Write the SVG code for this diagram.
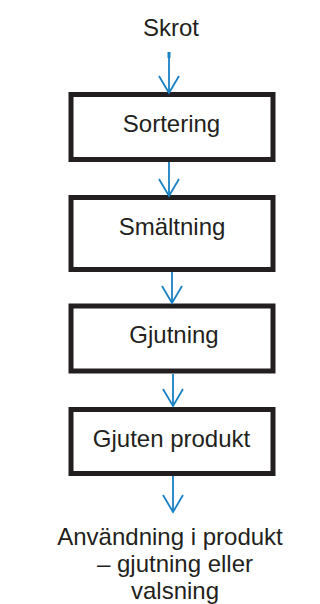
<svg xmlns="http://www.w3.org/2000/svg" width="320" height="604" viewBox="0 0 320 604">
  <defs>
    <style>
      .box { fill: #ffffff; stroke: #231f20; stroke-width: 5; }
      .lbl { font-family: "Liberation Sans", Arial, sans-serif; font-size: 24px; fill: #231f20; text-anchor: middle; }
      .flow { stroke: #1a80c4; stroke-width: 1.8; fill: none; }
    </style>
    <!-- open V arrowhead; x-axis of the marker runs along the line -->
    <marker id="vhead" viewBox="0 0 20 22" refX="18" refY="11" markerWidth="20" markerHeight="22" markerUnits="userSpaceOnUse" orient="auto">
      <path d="M1,1 L18,11 L1,21" fill="none" stroke="#1a80c4" stroke-width="1.8"/>
    </marker>
  </defs>

  <g id="start">
    <text class="lbl" x="171" y="36">Skrot</text>
  </g>

  <g id="sortering">
    <rect class="box" x="71" y="94.5" width="202" height="65"/>
    <text class="lbl" x="171.5" y="132">Sortering</text>
  </g>

  <g id="smaltning">
    <rect class="box" x="71" y="197.5" width="202" height="72"/>
    <text class="lbl" x="172" y="235">Smältning</text>
  </g>

  <g id="gjutning">
    <rect class="box" x="71" y="306" width="202" height="65"/>
    <text class="lbl" x="174" y="343">Gjutning</text>
  </g>

  <g id="gjuten-produkt">
    <rect class="box" x="71" y="409.5" width="202" height="64"/>
    <text class="lbl" x="171.5" y="447">Gjuten produkt</text>
  </g>

  <g id="anvandning">
    <text class="lbl" x="170" y="545">Användning i produkt</text>
    <text class="lbl" x="175" y="572">– gjutning eller</text>
    <text class="lbl" x="175" y="599">valsning</text>
  </g>

  <g id="connectors">
    <line x1="169" y1="52" x2="169" y2="58" stroke="#1a80c4" stroke-width="3"/>
    <line class="flow" x1="169" y1="52" x2="169" y2="93" marker-end="url(#vhead)"/>
    <line class="flow" x1="169" y1="162" x2="169" y2="196" marker-end="url(#vhead)"/>
    <line class="flow" x1="172" y1="272" x2="172" y2="303" marker-end="url(#vhead)"/>
    <line class="flow" x1="173" y1="374" x2="173" y2="406" marker-end="url(#vhead)"/>
    <line class="flow" x1="173" y1="476" x2="173" y2="512" marker-end="url(#vhead)"/>
  </g>
</svg>
